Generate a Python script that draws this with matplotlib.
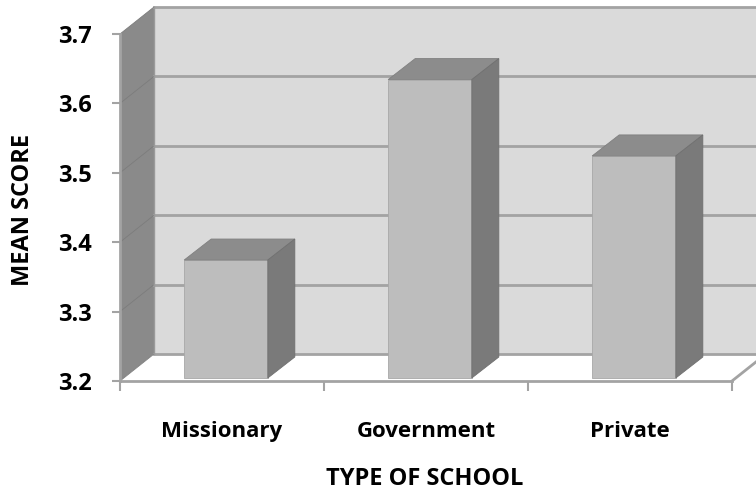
import matplotlib
matplotlib.use('Agg')
import matplotlib.pyplot as plt
from matplotlib.patches import Polygon
from matplotlib.lines import Line2D
from matplotlib.transforms import IdentityTransform

schools = ['Missionary', 'Government', 'Private']
mean_scores = [3.37, 3.63, 3.52]
yticks = [3.2, 3.3, 3.4, 3.5, 3.6, 3.7]

plt.rcParams['font.family'] = ['Open Sans', 'DejaVu Sans']
plt.rcParams['font.weight'] = 'bold'

fig = plt.figure(figsize=(7.56, 4.92), dpi=100)
ax = fig.add_axes([120/756, 111/492, 612/756, 347/492])
ax.set_xlim(-0.5, 2.5)
ax.set_ylim(3.2, 3.7)
ax.patch.set_visible(False)
for s in ax.spines.values():
    s.set_visible(False)

# pixel offsets for the fake 3d box
wall = (34, 27)
bar_front = (4, 3)
bar_back = (31, 24)
width = 0.41
axcol = '#a3a3a3'

def px(x, y, off=(0, 0)):
    X, Y = ax.transData.transform((x, y))
    return (X + off[0], Y + off[1])

def face(pts, color, z, ec='none'):
    ax.add_patch(Polygon(pts, closed=True, facecolor=color, edgecolor=ec, lw=0.6,
                         transform=IdentityTransform(), clip_on=False, zorder=z))

def seg(p, q, color=axcol, lw=2, z=3):
    ax.add_line(Line2D([p[0], q[0]], [p[1], q[1]], color=color, lw=lw,
                       transform=IdentityTransform(), clip_on=False, zorder=z))

x0, x1 = -0.5, 2.5
lo, hi = yticks[0], yticks[-1]

# back wall, left wall, floor
face([px(x0, lo, wall), px(x1, lo, wall), px(x1, hi, wall), px(x0, hi, wall)], '#dadada', 1)
face([px(x0, lo), px(x0, lo, wall), px(x0, hi, wall), px(x0, hi)], '#8a8a8a', 1)
face([px(x0, lo), px(x1, lo), px(x1, lo, wall), px(x0, lo, wall)], 'white', 1)

for v in yticks:
    seg(px(x0, v, wall), px(x1, v, wall), z=2)
    seg(px(x0, v), px(x0, v, wall), color='#7c7c7c', lw=0.6, z=2)
seg(px(x0, hi, wall), px(x0, lo, wall), color='#9a9a9a', lw=1, z=2)
seg(px(x1, lo), px(x1, lo, wall), z=2)

# bars
for i, v in enumerate(mean_scores):
    a, b = i - width/2, i + width/2
    face([px(a, lo, bar_front), px(b, lo, bar_front), px(b, v, bar_front), px(a, v, bar_front)],
         '#bdbdbd', 4, ec='#a8a8a8')
    face([px(a, v, bar_front), px(b, v, bar_front), px(b, v, bar_back), px(a, v, bar_back)],
         '#8c8c8c', 4, ec='#808080')
    face([px(b, lo, bar_front), px(b, lo, bar_back), px(b, v, bar_back), px(b, v, bar_front)],
         '#7a7a7a', 4, ec='#707070')

# front axis lines
seg(px(x0, lo), px(x0, hi), z=5)
seg(px(x0, lo), px(x1, lo), z=5)

ax.set_yticks(yticks)
ax.set_yticklabels(['%.1f' % t for t in yticks])
ax.set_xticks([-0.5, 0.5, 1.5, 2.5])
ax.set_xticklabels([])
ax.set_xticks([0, 1, 2], minor=True)
ax.set_xticklabels(schools, minor=True)
ax.tick_params(axis='y', length=6, width=1.5, color=axcol, pad=14, labelsize=17)
ax.tick_params(axis='x', which='major', length=7, width=1.5, color=axcol)
ax.tick_params(axis='x', which='minor', length=0, pad=29, labelsize=16)

fig.text(23/756, 1 - 210/492, 'MEAN SCORE', rotation=90, ha='center', va='center',
         fontsize=17, fontweight='bold')
fig.text(425/756, 1 - 479/492, 'TYPE OF SCHOOL', ha='center', va='center',
         fontsize=17, fontweight='bold')

fig.savefig('out.png', dpi=100)
